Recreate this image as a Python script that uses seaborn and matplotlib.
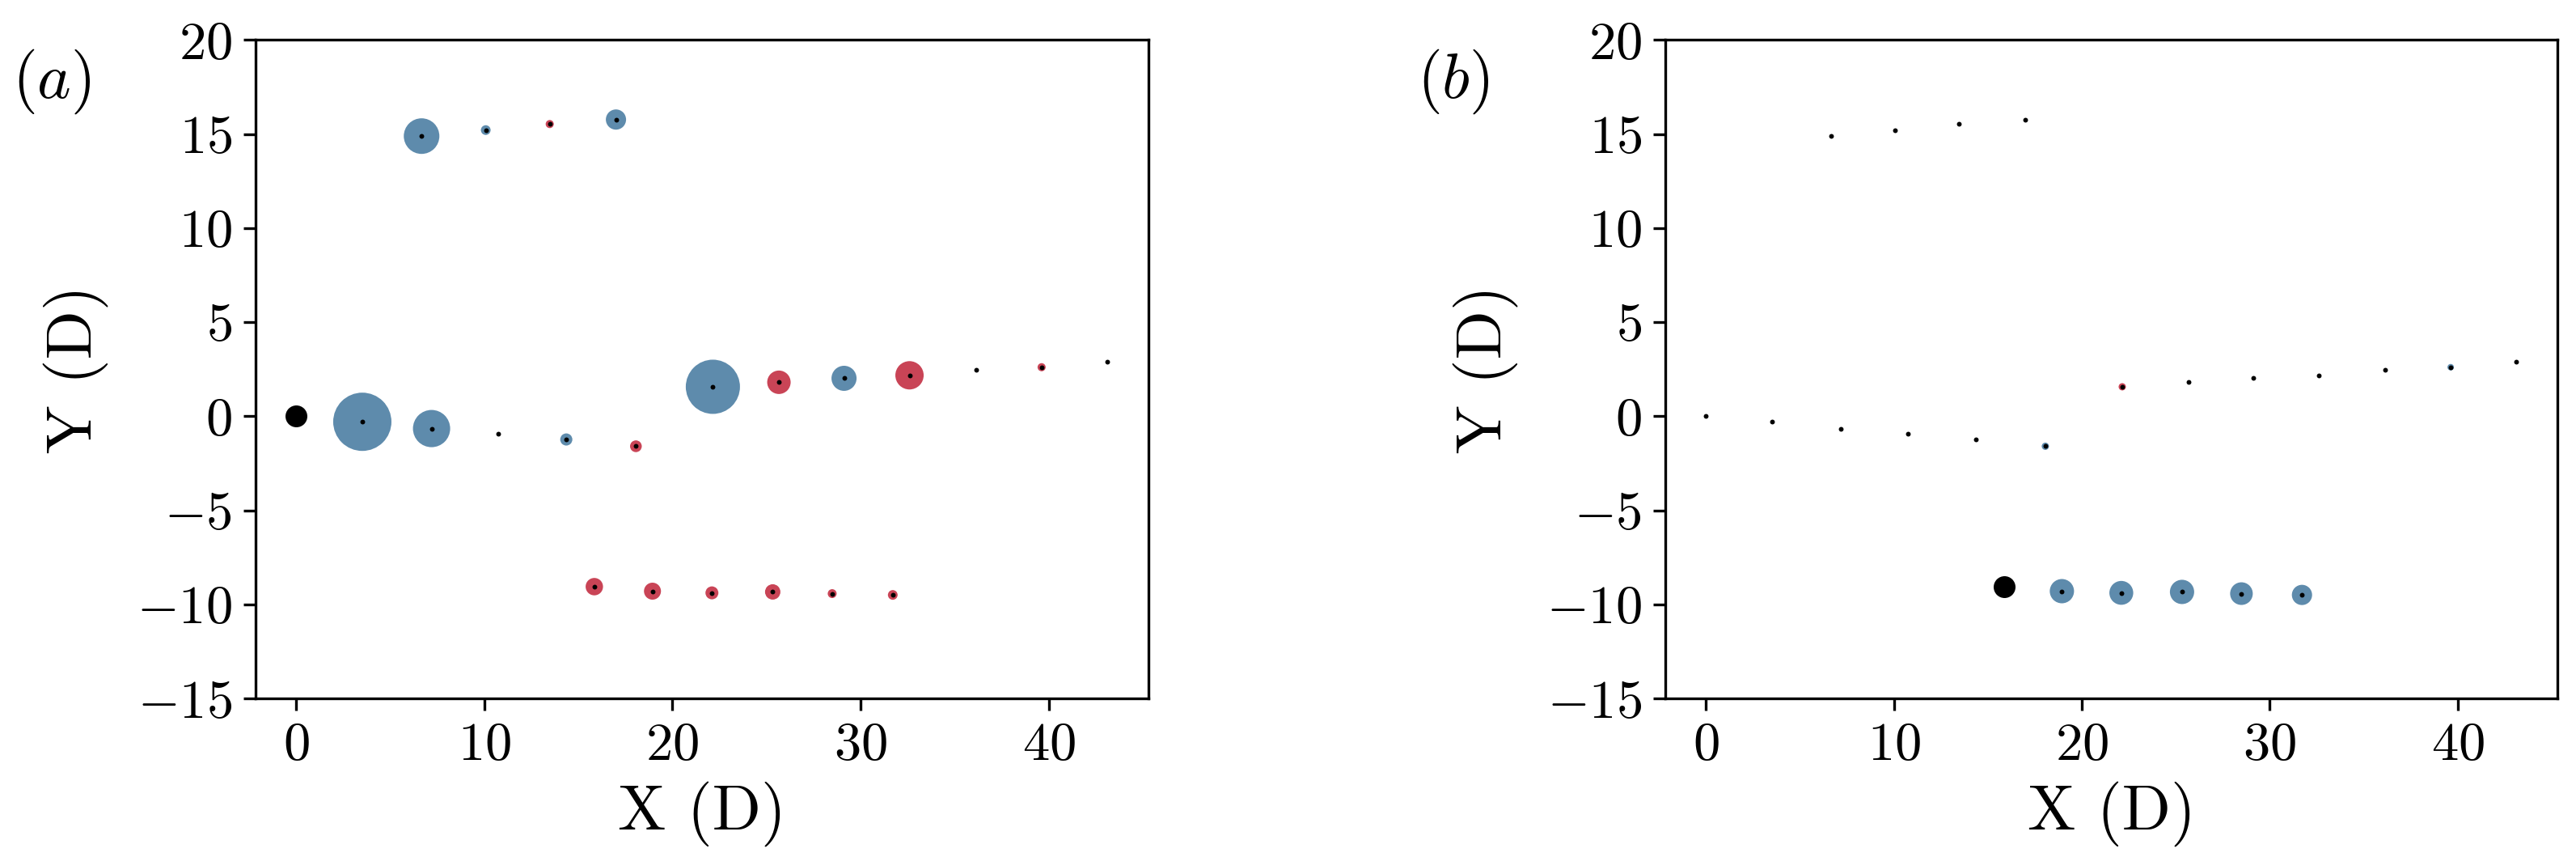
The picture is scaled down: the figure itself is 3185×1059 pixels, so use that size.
import numpy as np
import pandas as pd
import seaborn as sns
import matplotlib.pyplot as plt

# turbine positions (in rotor diameters)
x_pos = [0.0, 3.52, 7.2, 10.74, 14.36, 18.06, 22.15, 25.66, 29.12, 32.6, 36.14, 39.62, 43.1,
         6.67, 10.08, 13.48, 17.0,
         15.85, 18.94, 22.1, 25.33, 28.49, 31.71]
y_pos = [0.0, -0.29, -0.65, -0.92, -1.23, -1.59, 1.57, 1.81, 2.02, 2.18, 2.45, 2.61, 2.88,
         14.89, 15.21, 15.53, 15.77,
         -9.05, -9.29, -9.38, -9.33, -9.42, -9.49]

# signed response of each turbine (+ blue, - red), read as circle diameter
ring_a = [0, 72, 46, 0, 15, -14.5, 67, -29, 31, -35, 0, -10, 0,
          44, 12, -10, 25,
          -21.5, -21, -16, -19, -11, -12]
ring_b = [0, 0, 0, 0, 0, 9, -9, 0, 0, 0, 0, 8, 0,
          0, 0, 0, 0,
          0, 30, 29.5, 30, 28, 25]

ref_a = 0
ref_b = 17

blue = "#5E8BAC"
red = "#C94456"

DPI = 300

plt.rcParams.update({
    "font.family": "serif",
    "font.serif": ["cmr10"],
    "mathtext.fontset": "cm",
    "axes.formatter.use_mathtext": True,
    "axes.unicode_minus": True,
})


def to_area(d):
    # diameter (px) -> marker area (pt^2)
    return (np.abs(np.asarray(d, dtype=float)) * 72 / DPI) ** 2


def draw(ax, ring, ref, tag):
    df = pd.DataFrame({"x": x_pos, "y": y_pos, "ring": ring})
    df["area"] = to_area(df["ring"])
    df["sign"] = np.where(df["ring"] > 0, "pos", "neg")
    rings = df[df["ring"] != 0]
    smax = df["area"].max()

    sns.scatterplot(data=rings, x="x", y="y", hue="sign",
                    palette={"pos": blue, "neg": red},
                    size="area", sizes=(0, smax), size_norm=(0, smax),
                    linewidth=0, legend=False, ax=ax, zorder=2)
    others = df.drop(index=ref)
    sns.scatterplot(data=others, x="x", y="y", color="black", s=2,
                    linewidth=0, legend=False, ax=ax, zorder=3)
    sns.scatterplot(data=df.loc[[ref]], x="x", y="y", color="black", s=42,
                    linewidth=0, legend=False, ax=ax, zorder=3)

    ax.set_xlim(-2.15, 45.3)
    ax.set_ylim(-15, 20)
    ax.set_xticks([0, 10, 20, 30, 40])
    ax.set_yticks(range(-15, 25, 5))
    ax.tick_params(labelsize=16)
    ax.set_xlabel("X (D)", fontsize=19)
    ax.set_ylabel("Y (D)", fontsize=19)
    ax.xaxis.set_label_coords(0.5, -0.125)
    ax.yaxis.set_label_coords(-0.165, 0.5)


fig = plt.figure(figsize=(3186 / DPI, 1059 / DPI), dpi=DPI)
ax_a = fig.add_axes([0.0992, 0.1848, 0.3465, 0.7686])
ax_b = fig.add_axes([0.6463, 0.1848, 0.3462, 0.7686])

draw(ax_a, ring_a, ref_a, "a")
draw(ax_b, ring_b, ref_b, "b")

fig.text(0.0047, 0.905, r"$(a)$", fontsize=19, ha="left", va="center")
fig.text(0.550, 0.905, r"$(b)$", fontsize=19, ha="left", va="center")

fig.savefig("out.png", dpi=DPI)
